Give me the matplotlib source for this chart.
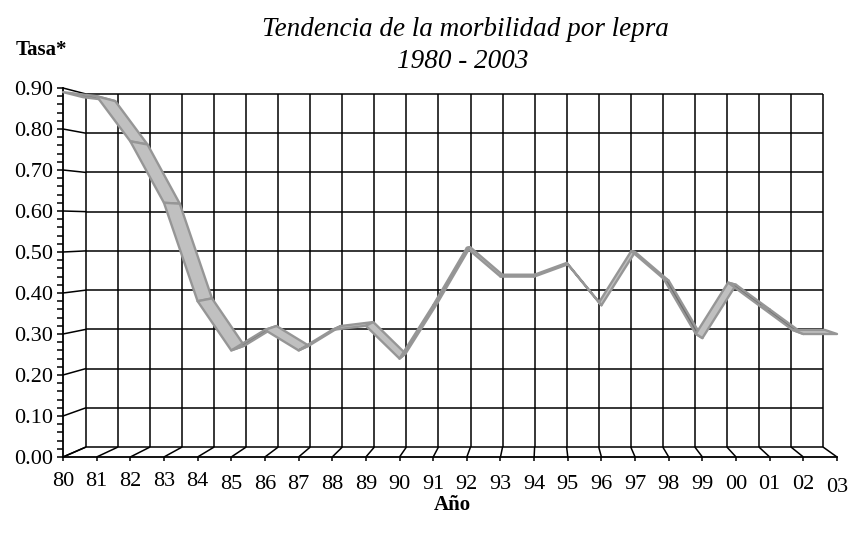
import matplotlib
matplotlib.use('Agg')
import matplotlib.pyplot as plt
import numpy as np
from matplotlib.patches import Polygon
from matplotlib.ticker import MultipleLocator, FormatStrFormatter
from matplotlib.transforms import ScaledTranslation

plt.rcParams['font.family'] = ['Liberation Serif', 'DejaVu Serif']

years = ['80', '81', '82', '83', '84', '85', '86', '87', '88', '89', '90', '91',
         '92', '93', '94', '95', '96', '97', '98', '99', '00', '01', '02', '03']
rates = [0.89, 0.88, 0.77, 0.62, 0.38, 0.26, 0.31, 0.26, 0.31, 0.32, 0.24, 0.37,
         0.51, 0.44, 0.44, 0.47, 0.37, 0.50, 0.43, 0.29, 0.42, 0.36, 0.30, 0.30]
ymax = 0.9

W, H = 850, 539
fig = plt.figure(figsize=(W / 100, H / 100), dpi=100)

# front plane of the 3d box (pixels)
fx0, fx1, fy0, fy1 = 63, 837, 457, 88
# back wall (pixels)
bx0, bx1, by0, by1 = 86, 823, 447, 94

ax = fig.add_axes([fx0 / W, (H - fy0) / H, (fx1 - fx0) / W, (fy0 - fy1) / H])
n = len(years)
ax.set_xlim(0, n - 1)
ax.set_ylim(0, ymax)

sx = (fx1 - fx0) / (n - 1)
sy = (fy0 - fy1) / ymax


def proj(i, v, d):
    # d = 0 front plane, d = 1 back wall, result in front-plane data units
    bx = (bx0 - fx0 + i * (bx1 - bx0) / (n - 1)) / sx
    by = (fy0 - by0 + v * (by0 - by1) / ymax) / sy
    return (1 - d) * i + d * bx, (1 - d) * v + d * by


def seg(p, q):
    ax.plot([p[0], q[0]], [p[1], q[1]], color='black', lw=1.1,
            clip_on=False, solid_capstyle='butt', zorder=1)


# back wall grid, left wall and floor
levels = np.round(np.arange(0, ymax + 0.001, 0.1), 2)
for v in levels:
    seg(proj(0, v, 1), proj(n - 1, v, 1))
    seg(proj(0, v, 0), proj(0, v, 1))
for i in range(n):
    seg(proj(i, 0, 1), proj(i, ymax, 1))
    seg(proj(i, 0, 0), proj(i, 0, 1))

# ribbon
D = 0.87
for i in range(n - 1):
    pts = [proj(i, rates[i], 0), proj(i + 1, rates[i + 1], 0),
           proj(i + 1, rates[i + 1], D), proj(i, rates[i], D)]
    px = ax.transData.transform(pts)
    a = px[1] - px[0]
    b = px[3] - px[0]
    cross = a[0] * b[1] - a[1] * b[0]
    face = '#c0c0c0' if cross > 0 else '#6e6e6e'
    ax.add_patch(Polygon(pts, closed=True, facecolor=face, edgecolor='#969696',
                         lw=1.7, joinstyle='round', clip_on=False, zorder=3))

for s in ['top', 'right']:
    ax.spines[s].set_visible(False)
for s in ['left', 'bottom']:
    ax.spines[s].set_linewidth(1.3)
ax.patch.set_alpha(0)

ax.set_xticks(range(n))
ax.set_xticklabels(years)
ax.yaxis.set_major_locator(MultipleLocator(0.1))
ax.yaxis.set_minor_locator(MultipleLocator(0.02))
ax.yaxis.set_major_formatter(FormatStrFormatter('%.2f'))
ax.tick_params(axis='y', which='both', direction='out', length=4.5, width=1.1,
               labelsize=16, pad=2.5)
ax.tick_params(axis='x', direction='out', length=3, width=1.1,
               labelsize=16, pad=8)

# year labels sag a little further right, as in the 3d view
for k, lab in enumerate(ax.get_xticklabels()):
    drop = 0 if k < 5 else (3 if k < n - 1 else 6)
    lab.set_transform(lab.get_transform() +
                      ScaledTranslation(0, -drop / 100, fig.dpi_scale_trans))

fig.text(465 / W, 1 - 30 / H, 'Tendencia de la morbilidad por lepra',
         ha='center', va='center', style='italic', fontsize=19.5)
fig.text(463 / W, 1 - 62 / H, '1980 - 2003',
         ha='center', va='center', style='italic', fontsize=19.5)
fig.text(41 / W, 1 - 50 / H, 'Tasa*', ha='center', va='center',
         fontweight='bold', fontsize=15)
fig.text(452 / W, 1 - 505 / H, 'Año', ha='center', va='center',
         fontweight='bold', fontsize=15)

fig.savefig('out.png', dpi=100)
